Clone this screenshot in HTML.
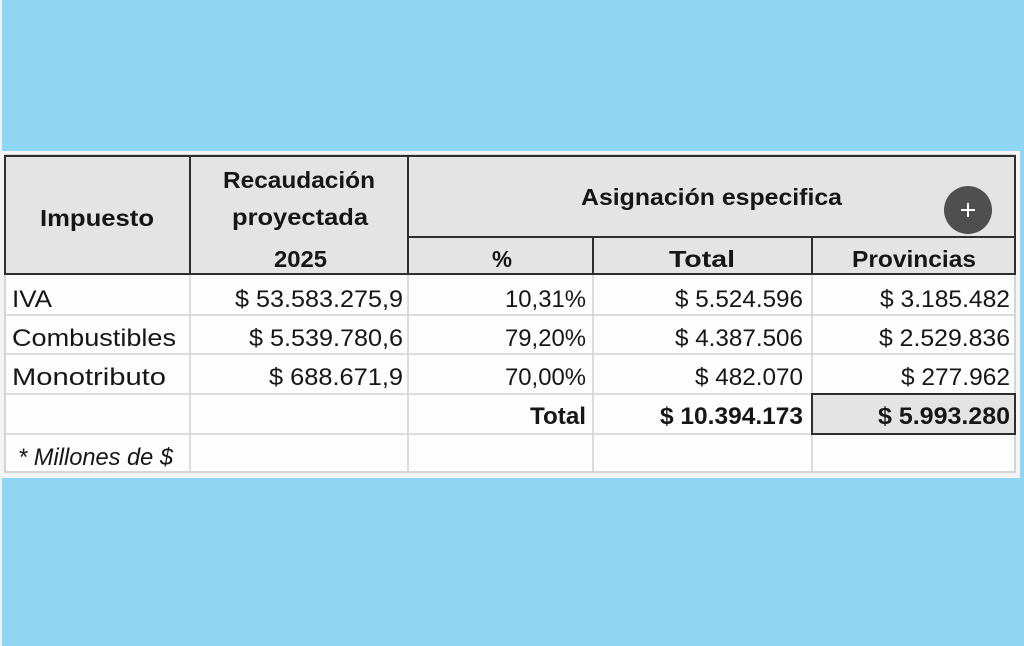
<!DOCTYPE html>
<html><head><meta charset="utf-8"><style>
html,body{margin:0;padding:0;background:#8fd6f5;}
svg{display:block;}
text{font-family:"Liberation Sans",Arial,sans-serif;fill:#161616;}
.h{font-weight:bold;font-size:23px;}
.r{font-size:24px;}
.b{font-weight:bold;font-size:24px;}
</style></head><body>
<svg width="1024" height="646" viewBox="0 0 1024 646" xmlns="http://www.w3.org/2000/svg">
<rect x="0" y="0" width="1024" height="646" fill="#8fd6f5"/>
<rect x="0" y="0" width="2" height="646" fill="#e8f6fc"/>
<!-- table frame -->
<rect x="0" y="151" width="1020" height="327" fill="#f4f4f4"/>
<rect x="5" y="155" width="1010" height="317" fill="#fdfdfd" stroke="#c8c8c8" stroke-width="1.5"/>
<!-- header -->
<rect x="5" y="155" width="1010" height="119" fill="#e5e4e4"/>
<!-- data grid lines -->
<g stroke="#d2d2d2" stroke-width="1.5">
<line x1="5" y1="315" x2="1015" y2="315"/>
<line x1="5" y1="354" x2="1015" y2="354"/>
<line x1="5" y1="394" x2="1015" y2="394"/>
<line x1="5" y1="434" x2="1015" y2="434"/>
<line x1="190" y1="274" x2="190" y2="472"/>
<line x1="408" y1="274" x2="408" y2="472"/>
<line x1="593" y1="274" x2="593" y2="472"/>
<line x1="812" y1="274" x2="812" y2="472"/>
</g>
<!-- header dark lines -->
<g stroke="#2e2e2e" stroke-width="2" fill="none">
<rect x="5" y="156" width="1010" height="118"/>
<line x1="190" y1="156" x2="190" y2="274"/>
<line x1="408" y1="156" x2="408" y2="274"/>
<line x1="408" y1="237" x2="1015" y2="237"/>
<line x1="593" y1="237" x2="593" y2="274"/>
<line x1="812" y1="237" x2="812" y2="274"/>
</g>
<!-- total box -->
<rect x="812" y="394" width="203" height="40" fill="#e4e4e4" stroke="#2e2e2e" stroke-width="2"/>
<!-- plus button -->
<circle cx="968" cy="210" r="24" fill="#4f4f4f"/>
<line x1="961" y1="210" x2="975" y2="210" stroke="#fff" stroke-width="2"/>
<line x1="968" y1="203" x2="968" y2="217" stroke="#fff" stroke-width="2"/>
<!-- header text -->
<text class="h" x="40" y="226" textLength="114" lengthAdjust="spacingAndGlyphs">Impuesto</text>
<text class="h" x="223" y="188" textLength="152" lengthAdjust="spacingAndGlyphs">Recaudación</text>
<text class="h" x="232" y="225" textLength="136" lengthAdjust="spacingAndGlyphs">proyectada</text>
<text class="h" x="274" y="267" textLength="53" lengthAdjust="spacingAndGlyphs">2025</text>
<text class="h" x="581" y="205" textLength="261" lengthAdjust="spacingAndGlyphs">Asignación especifica</text>
<text class="h" x="492" y="267" textLength="20" lengthAdjust="spacingAndGlyphs">%</text>
<text class="h" x="669" y="267" textLength="66" lengthAdjust="spacingAndGlyphs">Total</text>
<text class="h" x="852" y="267" textLength="124" lengthAdjust="spacingAndGlyphs">Provincias</text>
<!-- row 1 -->
<text class="r" x="12" y="307" textLength="40" lengthAdjust="spacingAndGlyphs">IVA</text>
<text class="r" x="235" y="307" textLength="168" lengthAdjust="spacingAndGlyphs">$ 53.583.275,9</text>
<text class="r" x="505" y="307" textLength="81" lengthAdjust="spacingAndGlyphs">10,31%</text>
<text class="r" x="675" y="307" textLength="128" lengthAdjust="spacingAndGlyphs">$ 5.524.596</text>
<text class="r" x="880" y="307" textLength="130" lengthAdjust="spacingAndGlyphs">$ 3.185.482</text>
<!-- row 2 -->
<text class="r" x="12" y="346" textLength="164" lengthAdjust="spacingAndGlyphs">Combustibles</text>
<text class="r" x="249" y="346" textLength="154" lengthAdjust="spacingAndGlyphs">$ 5.539.780,6</text>
<text class="r" x="505" y="346" textLength="81" lengthAdjust="spacingAndGlyphs">79,20%</text>
<text class="r" x="675" y="346" textLength="128" lengthAdjust="spacingAndGlyphs">$ 4.387.506</text>
<text class="r" x="879" y="346" textLength="131" lengthAdjust="spacingAndGlyphs">$ 2.529.836</text>
<!-- row 3 -->
<text class="r" x="12" y="385" textLength="154" lengthAdjust="spacingAndGlyphs">Monotributo</text>
<text class="r" x="269" y="385" textLength="134" lengthAdjust="spacingAndGlyphs">$ 688.671,9</text>
<text class="r" x="505" y="385" textLength="81" lengthAdjust="spacingAndGlyphs">70,00%</text>
<text class="r" x="695" y="385" textLength="108" lengthAdjust="spacingAndGlyphs">$ 482.070</text>
<text class="r" x="901" y="385" textLength="109" lengthAdjust="spacingAndGlyphs">$ 277.962</text>
<!-- total row -->
<text class="b" x="530" y="424" textLength="56" lengthAdjust="spacingAndGlyphs">Total</text>
<text class="b" x="660" y="424" textLength="143" lengthAdjust="spacingAndGlyphs">$ 10.394.173</text>
<text class="b" x="878" y="424" textLength="132" lengthAdjust="spacingAndGlyphs">$ 5.993.280</text>
<!-- footnote -->
<text class="r" x="18" y="465" font-style="italic" font-size="22" textLength="155" lengthAdjust="spacingAndGlyphs">* Millones de $</text>
</svg>
</body></html>
